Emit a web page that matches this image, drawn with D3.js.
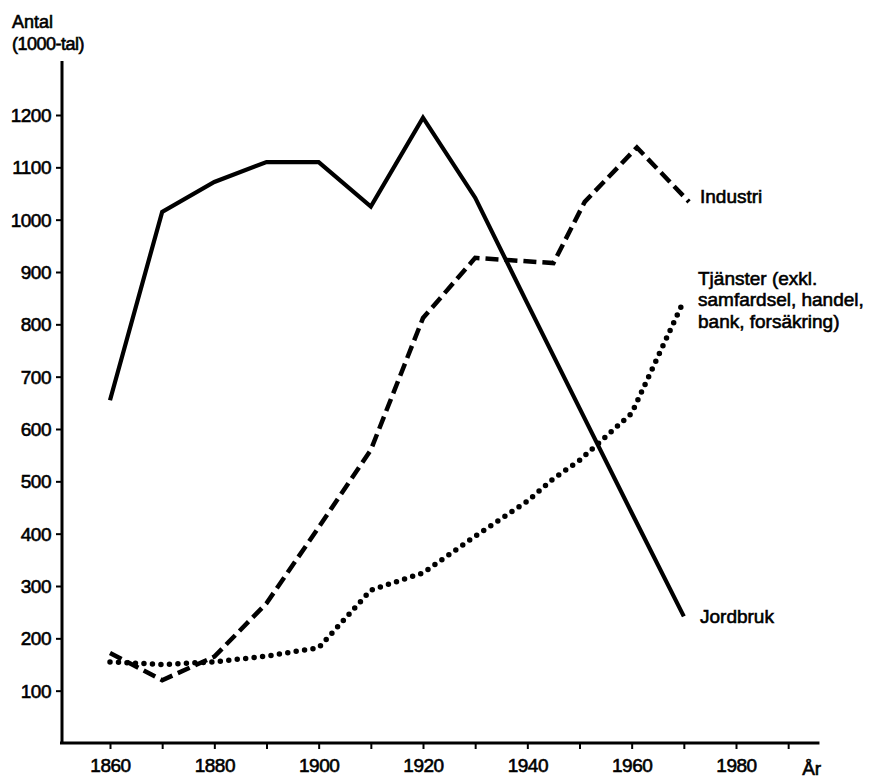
<!DOCTYPE html>
<html>
<head>
<meta charset="utf-8">
<script src="https://cdn.jsdelivr.net/npm/d3@7"></script>
<style>
  body { margin: 0; background: #fff; }
  svg text { font-family: "Liberation Sans", Arial, sans-serif; fill: #000; stroke: #000; stroke-width: 0.6px; }
</style>
</head>
<body>
<svg id="chart" width="881" height="780"></svg>
<script>
// values (1000-tal)
const jordbrukYears = [1860, 1870, 1880, 1890, 1900, 1910, 1920, 1930, 1940, 1950, 1960, 1970];
const jordbrukValues = [655, 1015, 1072, 1110, 1110, 1025, 1195, 1042, 840, 640, 440, 242];

const industriYears = [1860, 1870, 1880, 1890, 1900, 1910, 1920, 1930, 1945, 1951, 1961, 1971];
const industriValues = [172, 120, 165, 267, 412, 560, 812, 927, 917, 1034, 1138, 1034];

const tjansterYears = [1860, 1870, 1880, 1890, 1900, 1910, 1920, 1930, 1940, 1945, 1950, 1960, 1970];
const tjansterValues = [155, 150, 155, 166, 182, 292, 325, 395, 462, 505, 540, 630, 845];

const yTicks = [100, 200, 300, 400, 500, 600, 700, 800, 900, 1000, 1100, 1200];
const xTicks = [1860, 1870, 1880, 1890, 1900, 1910, 1920, 1930, 1940, 1950, 1960, 1970, 1980, 1990];
const xLabels = [1860, 1880, 1900, 1920, 1940, 1960, 1980];
const tjansterLabel = ["Tjänster (exkl.", "samfardsel, handel,", "bank, forsäkring)"];

const svg = d3.select('#chart');

const x = d3.scaleLinear().domain([1860, 1980]).range([110, 736]);
const y = d3.scaleLinear().domain([0, 1200]).range([743, 115]);

// axes
const yAxis = d3.axisLeft(y).tickValues(yTicks).tickSize(6).tickPadding(5).tickFormat(d3.format('d'));
const gy = svg.append('g').attr('transform', 'translate(62,0)').call(yAxis);
gy.select('.domain').remove();
gy.selectAll('.tick line').attr('stroke', '#000').attr('stroke-width', 2);
gy.selectAll('.tick text').attr('font-size', 19).attr('dy', '0.35em').attr('letter-spacing', -0.5);

const xAxis = d3.axisBottom(x).tickValues(xTicks).tickSize(6).tickPadding(10)
    .tickFormat(d => xLabels.includes(d) ? d : '');
const gx = svg.append('g').attr('transform', 'translate(0,743)').call(xAxis);
gx.select('.domain').remove();
gx.selectAll('.tick line').attr('stroke', '#000').attr('stroke-width', 2);
gx.selectAll('.tick text').attr('font-size', 19).attr('letter-spacing', -0.5);

svg.append('line')
    .attr('x1', 62).attr('x2', 62).attr('y1', 61).attr('y2', 744)
    .attr('stroke', '#000').attr('stroke-width', 3);
svg.append('line')
    .attr('x1', 60).attr('x2', x(1996)).attr('y1', 743).attr('y2', 743)
    .attr('stroke', '#000').attr('stroke-width', 3);

svg.append('text').attr('x', x(1994.5)).attr('y', 775).attr('text-anchor', 'middle')
    .attr('font-size', 19).text('År');
svg.append('text').attr('x', 12).attr('y', 28).attr('font-size', 18).text('Antal');
svg.append('text').attr('x', 12).attr('y', 50).attr('font-size', 18).attr('letter-spacing', -0.5).text('(1000-tal)');

// lines
const line = d3.line().x(d => x(d[0])).y(d => y(d[1]));

svg.append('path')
    .datum(d3.zip(jordbrukYears, jordbrukValues))
    .attr('d', line)
    .attr('fill', 'none').attr('stroke', '#000').attr('stroke-width', 4.2)
    .attr('stroke-linejoin', 'miter');

svg.append('path')
    .datum(d3.zip(industriYears, industriValues))
    .attr('d', line)
    .attr('fill', 'none').attr('stroke', '#000').attr('stroke-width', 4.5)
    .attr('stroke-dasharray', '13 6');

svg.append('path')
    .datum(d3.zip(tjansterYears, tjansterValues))
    .attr('d', line)
    .attr('fill', 'none').attr('stroke', '#000').attr('stroke-width', 5.5)
    .attr('stroke-linecap', 'round')
    .attr('stroke-dasharray', '0 8.5');

// series labels
const lastJ = jordbrukValues[jordbrukValues.length - 1];
const lastI = industriValues[industriValues.length - 1];
const lastT = tjansterValues[tjansterValues.length - 1];

svg.append('text').attr('x', 700).attr('y', y(lastI) + 1).attr('font-size', 19).text('Industri');
svg.append('text').attr('x', 700).attr('y', y(lastJ) + 7).attr('font-size', 19).text('Jordbruk');
svg.append('g').selectAll('text')
    .data(tjansterLabel)
    .join('text')
    .attr('x', 698)
    .attr('y', (d, i) => y(lastT) - 16 + i * 21.5)
    .attr('font-size', 19)
    .text(d => d);
</script>
</body>
</html>
